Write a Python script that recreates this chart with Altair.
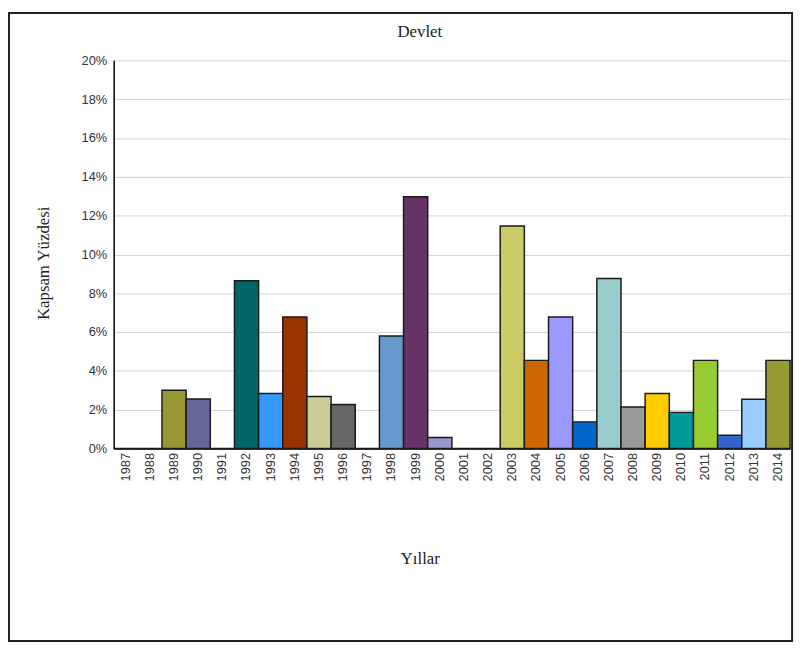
import altair as alt
import pandas as pd

years = [str(y) for y in range(1987, 2015)]
values = [0, 0, 3.0, 2.55, 0, 8.64, 2.83, 6.78, 2.68, 2.27, 0, 5.8, 12.97, 0.56,
          0, 0, 11.47, 4.54, 6.78, 1.37, 8.76, 2.14, 2.83, 1.86, 4.54, 0.68, 2.54, 4.54]
colors = ["#ffffff", "#ffffff", "#999933", "#666699", "#ffffff", "#006666", "#3399ff",
          "#993300", "#cccc99", "#666666", "#ffffff", "#6699cc", "#663366", "#9999cc",
          "#ffffff", "#ffffff", "#cccc66", "#cc6600", "#9999ff", "#0066cc", "#99cccc",
          "#999999", "#ffcc00", "#009999", "#99cc33", "#3366cc", "#99ccff", "#999933"]
y_ticks = [0, 2, 4, 6, 8, 10, 12, 14, 16, 18, 20]
chart_title = ["Devlet"]

df = pd.DataFrame({"Yil": years, "Deger": values, "Renk": colors})

W, H = 685, 393

bars = alt.Chart(df).mark_bar(stroke="#1a1a1a", strokeWidth=1.5).encode(
    x=alt.X("Yil:N", sort=years,
            scale=alt.Scale(paddingInner=0, paddingOuter=0),
            axis=alt.Axis(title="Yıllar", labelAngle=270, labelAlign="right",
                          labelBaseline="middle", labelPadding=4, ticks=False,
                          labelFont="Liberation Sans", labelFontSize=13, labelColor="#333333",
                          domainColor="#000000", domainWidth=1.5,
                          titleFont="Liberation Serif", titleFontSize=17,
                          titleFontWeight="normal", titleColor="#222222",
                          titleX=310, titleY=116, titleBaseline="alphabetic")),
    y=alt.Y("Deger:Q", scale=alt.Scale(domain=[0, 20], nice=False),
            axis=alt.Axis(title="Kapsam Yüzdesi", values=y_ticks,
                          labelExpr="datum.value + '%'", ticks=False, labelPadding=7,
                          labelFont="Liberation Sans", labelFontSize=13, labelColor="#333333",
                          domainColor="#000000", domainWidth=1.5,
                          gridColor="#d4d4d4", gridWidth=1,
                          titleFont="Liberation Serif", titleFontSize=17,
                          titleFontWeight="normal", titleColor="#222222",
                          titleX=-62, titleY=205)),
    fill=alt.Fill("Renk:N", scale=None, legend=None),
)

title_text = alt.Chart(pd.DataFrame({"t": chart_title})).mark_text(
    font="Liberation Serif", fontSize=17, color="#222222", align="center",
    baseline="alphabetic"
).encode(text="t:N", x=alt.value(310), y=alt.value(-24))

frame = alt.Chart(pd.DataFrame({"t": chart_title})).mark_rect(
    fill=None, stroke="#222222", strokeWidth=2
).encode(
    x=alt.value(-106), x2=alt.value(687),
    y=alt.value(-48), y2=alt.value(588),
)

chart = alt.layer(bars, title_text, frame).properties(
    width=W, height=H,
    autosize=alt.AutoSizeParams(type="none"),
    padding={"left": 107, "top": 49, "right": 8, "bottom": 196},
).configure_view(stroke=None).configure_axis(grid=False).configure_axisY(grid=True)

chart.save("out.html", embed_options={"renderer": "svg", "actions": False})
